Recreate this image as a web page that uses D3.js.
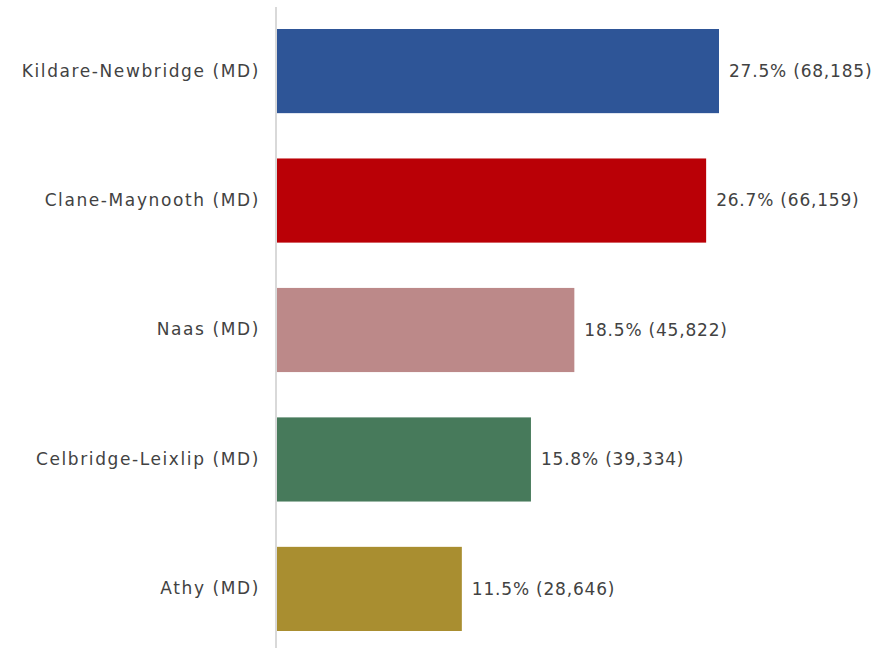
<!DOCTYPE html>
<html>
<head>
<meta charset="utf-8">
<script src="https://cdn.jsdelivr.net/npm/d3@7"></script>
<style>
  html, body { margin: 0; padding: 0; background: #fff; }
  svg text { font-family: "DejaVu Sans", sans-serif; }
</style>
</head>
<body>
<svg id="chart" width="888" height="648"></svg>
<script>
// Population share by Municipal District
const districts = ["Kildare-Newbridge (MD)", "Clane-Maynooth (MD)", "Naas (MD)", "Celbridge-Leixlip (MD)", "Athy (MD)"];
const shares = [27.5, 26.7, 18.5, 15.8, 11.5];
const populations = [68185, 66159, 45822, 39334, 28646];
const barColors = ["#2E5597", "#BA0006", "#BC8989", "#477A5B", "#A98E30"];

const svg = d3.select("#chart");
const width = 888, height = 648;
const margin = { top: 7, right: 20, bottom: 0, left: 277 };

const x = d3.scaleLinear()
  .domain([0, 27.5])
  .range([margin.left, 719]);

const y = d3.scaleBand()
  .domain(districts)
  .range([margin.top, 653])
  .paddingInner(0.35)
  .paddingOuter(0.17);

// vertical baseline
svg.append("line")
  .attr("x1", margin.left - 1).attr("x2", margin.left - 1)
  .attr("y1", 7).attr("y2", height)
  .attr("stroke", "#d9d9d9")
  .attr("stroke-width", 2);

const rows = districts.map((d, i) => ({ name: d, share: shares[i], pop: populations[i], color: barColors[i] }));

svg.selectAll("rect.bar")
  .data(rows)
  .join("rect")
  .attr("class", "bar")
  .attr("x", x(0))
  .attr("y", d => y(d.name))
  .attr("width", d => x(d.share) - x(0))
  .attr("height", y.bandwidth())
  .attr("fill", d => d.color);

// category labels
const yAxis = d3.axisLeft(y).tickSize(0).tickPadding(17);
const gy = svg.append("g")
  .attr("transform", `translate(${margin.left},0)`)
  .call(yAxis);
gy.select(".domain").remove();
gy.selectAll("text")
  .attr("fill", "#424242")
  .style("font-size", "17px")
  .style("letter-spacing", "1.6px")
  .style("font-family", "'DejaVu Sans', sans-serif");

const fmt = d3.format(",");
svg.selectAll("text.value")
  .data(rows)
  .join("text")
  .attr("class", "value")
  .attr("x", d => x(d.share) + 10)
  .attr("y", d => y(d.name) + y.bandwidth() / 2)
  .attr("dy", "0.35em")
  .attr("fill", "#424242")
  .style("font-size", "17px")
  .style("letter-spacing", "0.8px")
  .text(d => `${d.share}% (${fmt(d.pop)})`);
</script>
</body>
</html>
